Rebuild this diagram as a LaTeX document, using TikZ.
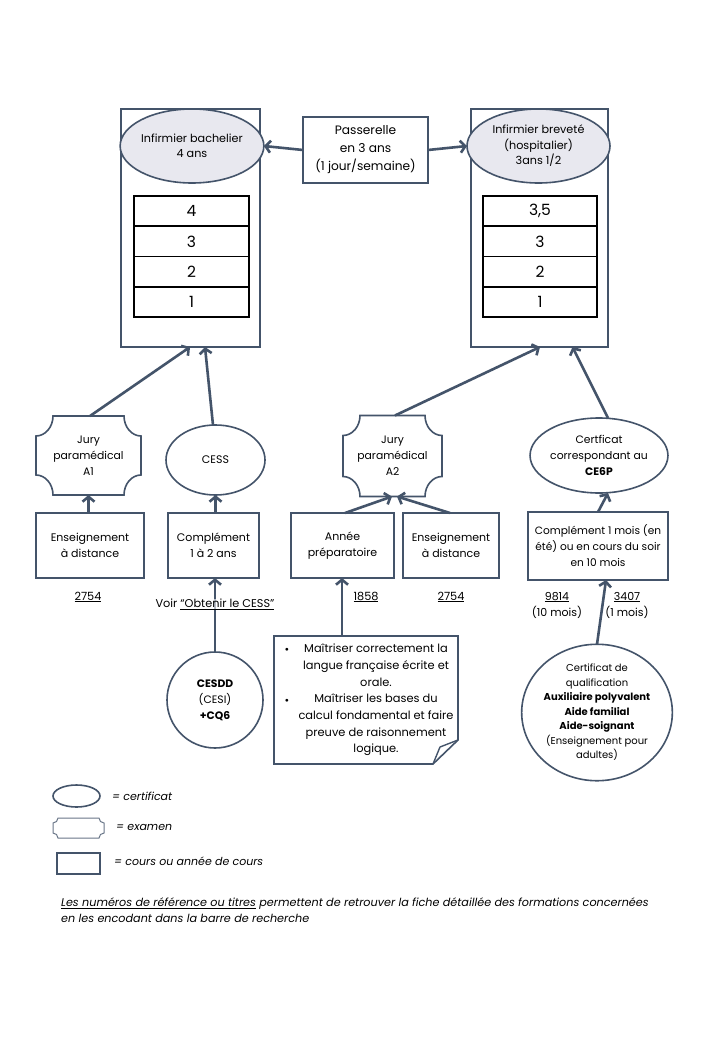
\documentclass[tikz,border=0pt]{standalone}
\usepackage{fontspec}
\setmainfont{Poppins}
\usetikzlibrary{arrows.meta,calc,shapes.geometric}
\definecolor{sl}{HTML}{44546A}
\definecolor{ellfill}{HTML}{E8E8EF}
\newcommand\fs[2]{\fontsize{#1}{#2}\selectfont}
\newcommand\examoutline[4]{% node, rx, ry, style
  \draw[#4] ($(#1.north west)+(#2,0)$) -- ($(#1.north east)+(-#2,0)$)
   .. controls ($(#1.north east)+(-#2,0.55*#3)$) and ($(#1.north east)+(-0.55*#2,#3)$) .. ($(#1.north east)+(0,#3)$)
   -- ($(#1.south east)+(0,-#3)$)
   .. controls ($(#1.south east)+(-0.55*#2,-#3)$) and ($(#1.south east)+(-#2,-0.55*#3)$) .. ($(#1.south east)+(-#2,0)$)
   -- ($(#1.south west)+(#2,0)$)
   .. controls ($(#1.south west)+(#2,-0.55*#3)$) and ($(#1.south west)+(0.55*#2,-#3)$) .. ($(#1.south west)+(0,-#3)$)
   -- ($(#1.north west)+(0,#3)$)
   .. controls ($(#1.north west)+(0.55*#2,#3)$) and ($(#1.north west)+(#2,0.55*#3)$) .. cycle;}
\tikzset{
  box/.style={draw=sl, line width=1.6pt, fill=white, align=center, inner sep=0pt, outer sep=0pt, font=\fs{11}{16}},
  bigbox/.style={draw=sl, line width=1.6pt, fill=white, inner sep=0pt, outer sep=0pt},
  ell/.style={ellipse, draw=sl, line width=1.6pt, fill=white, align=center, inner sep=0pt, outer sep=0pt, font=\fs{11}{16}},
  gell/.style={ell, fill=ellfill, font=\fs{11.2}{15.5}},
  row/.style={draw=black, line width=1.6pt, fill=white, inner sep=0pt, minimum height=30.25pt, font=\fs{15.5}{18}},
  exnode/.style={align=center, inner sep=0pt, outer sep=0pt, font=\fs{10.8}{16}},
  exam/.style={draw=sl, line width=1.6pt, fill=white},
  lbl/.style={inner sep=0pt, font=\fs{11.3}{16}, align=center},
  conn/.style={draw=sl, line width=2.6pt, -{Straight Barb[length=5pt,width=12pt]}},
}
\begin{document}
\begin{tikzpicture}[x=1pt,y=-1pt]
\useasboundingbox[fill=white] (0,0) rectangle (720,1040);

% top left column
\node[bigbox, minimum width=139pt, minimum height=238pt] (LB) at (190.5,228) {};
\node[gell, minimum width=140pt, minimum height=74pt] (LE) at (192,146) {Infirmier bachelier\\4 ans};
\node[row, minimum width=115pt] (L4) at (191.5,211.1) {4};
\node[row, minimum width=115pt] (L3) at (191.5,241.4) {3};
\node[row, minimum width=115pt] (L2) at (191.5,271.6) {2};
\node[row, minimum width=115pt] (L1) at (191.5,301.9) {1};

% top right column
\node[bigbox, minimum width=137pt, minimum height=238pt] (RB) at (539.5,228) {};
\node[gell, minimum width=143pt, minimum height=74pt] (RE) at (538.5,146) {Infirmier breveté\\(hospitalier)\\3ans 1/2};
\node[row, minimum width=114pt] (R4) at (540,211.1) {3,5};
\node[row, minimum width=114pt] (R3) at (540,241.4) {3};
\node[row, minimum width=114pt] (R2) at (540,271.6) {2};
\node[row, minimum width=114pt] (R1) at (540,301.9) {1};

% passerelle
\node[box, minimum width=125pt, minimum height=66pt, font=\fs{12.2}{18}] (PA) at (365.5,150) {Passerelle\\en 3 ans\\(1 jour/semaine)};

% second row
\node[exnode, minimum width=105pt, minimum height=79pt] (JA1) at (88.5,455.5) {};
\examoutline{JA1}{17}{20}{exam}
\node[exnode] (JA1t) at (88.5,456) {Jury\\paramédical\\A1};
\node[ell, minimum width=99pt, minimum height=70pt] (CESS) at (215.5,460) {CESS};
\node[exnode, minimum width=99pt, minimum height=81pt] (JA2) at (392.5,456) {};
\examoutline{JA2}{17}{20}{exam}
\node[exnode] (JA2t) at (392.5,456) {Jury\\paramédical\\A2};
\node[ell, minimum width=121pt, minimum height=75pt, font=\fs{10.8}{16}] (CE6P) at (599,455.5) {Certficat\\correspondant au\\\textbf{CE6P}};

% third row
\node[box, minimum width=108pt, minimum height=65pt] (EA1) at (90,545.5) {Enseignement\\à distance};
\node[box, minimum width=91pt, minimum height=65pt] (CO) at (213.5,545.5) {Complément\\1 à 2 ans};
\node[box, minimum width=103pt, minimum height=65pt] (AP) at (342.5,545.5) {Année\\préparatoire};
\node[box, minimum width=96pt, minimum height=65pt] (EA2) at (451,545.5) {Enseignement\\à distance};
\node[box, minimum width=140pt, minimum height=68pt, font=\fs{10.6}{16}] (CM) at (598,546) {Complément 1 mois (en\\été) ou en cours du soir\\en 10 mois};

% reference numbers
\node[lbl] (n1) at (88,597) {\underline{2754}};
\node[lbl] (n2) at (366,597) {\underline{1858}};
\node[lbl] (n3) at (451,597) {\underline{2754}};
\node[lbl, font=\fs{11}{16}] (n4) at (557,605) {\underline{9814}\\(10 mois)};
\node[lbl, font=\fs{11}{16}] (n5) at (627,605) {\underline{3407}\\(1 mois)};

% bottom shapes
\node[ell, minimum width=96pt, minimum height=96pt, font=\fs{10.8}{16}] (CD) at (215,700) {\textbf{CESDD}\\(CESI)\\\textbf{+CQ6}};
\node[ell, minimum width=142pt, minimum height=132pt, font=\fs{10}{14.5}] (CQ) at (597,712.5) {Certificat de\\qualification\\\textbf{Auxiliaire polyvalent}\\\textbf{Aide familial}\\\textbf{Aide-soignant}\\(Enseignement pour\\adultes)};

% note with folded corner
\coordinate (NT) at (342,636);
\draw[draw=sl, line width=1.6pt, fill=white] (274,636) -- (458,636) -- (458,740) -- (433,764) -- (274,764) -- cycle;
\draw[draw=sl, line width=1.4pt, line join=round] (433,764) -- (440,747) -- (458,740);
\node[lbl, font=\fs{11.4}{16.7}] (NX) at (376,700) {Maîtriser correctement la\\langue française écrite et\\orale.\\Maîtriser les bases du\\calcul fondamental et faire\\preuve de raisonnement\\logique.};
\node[lbl] (b1) at (287,651) {•};
\node[lbl] (b2) at (287,702) {•};

% connectors
\draw[conn] (PA.west) -- (LE.east);
\draw[conn] (PA.east) -- (RE.west);
\draw[conn] ([xshift=1.5pt]JA1.north) -- ([xshift=-0.5pt]LB.south);
\draw[conn] ([xshift=-2.5pt]CESS.north) -- ([xshift=14.5pt]LB.south);
\draw[conn] (EA1.north -| JA1.south) -- (JA1.south);
\draw[conn] (CO.north -| CESS.south) -- (CESS.south);
\draw[conn] (CD.north) -- (CD.north |- CO.south);
\draw[conn] ([xshift=2.5pt]JA2.north) -- ([xshift=0.5pt]RB.south);
\draw[conn] ([xshift=9pt]CE6P.north) -- ([xshift=33pt]RB.south);
\draw[conn] ([xshift=2.5pt]AP.north) -- ([xshift=-0.5pt]JA2.south);
\draw[conn] ([xshift=-1pt]EA2.north) -- ([xshift=4.5pt]JA2.south);
\draw[conn] (NT) -- (NT |- AP.south);
\draw[conn] (CM.north) -- ([xshift=9pt]CE6P.south);
\draw[conn] ([xshift=0pt]CQ.north) -- ([xshift=8pt]CM.south);

\node[lbl, fill=white, fill opacity=0.6, text opacity=1] (voir) at (215,604) {Voir \underline{“Obtenir le CESS”}};

% legend
\node[ell, minimum width=47pt, minimum height=22pt] (lg1) at (76.5,796) {};
\node[anchor=west, inner sep=0pt, font=\fs{11}{16}\itshape] (lg1t) at (112,796) {= certificat};
\node[exnode, minimum width=51pt, minimum height=20pt] (lg2) at (78.5,828) {};
\examoutline{lg2}{5}{5}{draw=sl!80, line width=1pt}
\node[anchor=west, inner sep=0pt, font=\fs{11}{16}\itshape] (lg2t) at (116,827) {= examen};
\node[box, minimum width=43pt, minimum height=21pt] (lg3) at (78.5,863.5) {};
\node[anchor=west, inner sep=0pt, font=\fs{11}{16}\itshape] (lg3t) at (114,861) {= cours ou année de cours};

% footnote
\node[anchor=north west, inner sep=0pt, align=left, font=\fs{11.2}{16}\itshape] (foot) at (61,898) {\underline{Les numéros de référence ou titres} permettent de retrouver la fiche détaillée des formations concernées\\en les encodant dans la barre de recherche};
\end{tikzpicture}
\end{document}
